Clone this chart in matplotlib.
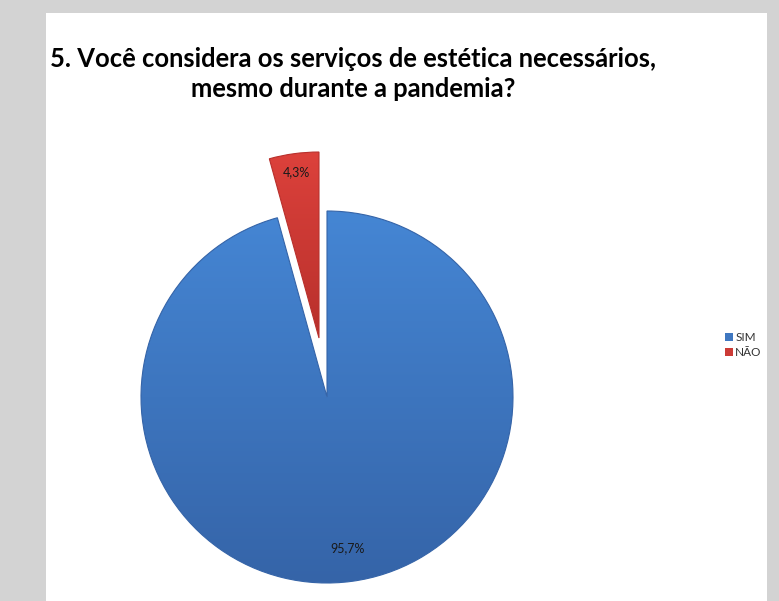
import matplotlib.pyplot as plt
import numpy as np
from matplotlib.colors import to_rgb
from matplotlib.patches import Rectangle, Patch

# Respostas da pergunta 5
categorias = ['SIM', 'NÃO']
percentuais = [95.7, 4.3]
rotulos = ['95,7%', '4,3%']
cores_claras = ['#4586d4', '#dc413b']
cores_escuras = ['#3564a8', '#b8302c']
cores_legenda = ['#3f77c0', '#cc3b36']

titulo = '5. Você considera os serviços de estética necessários,\nmesmo durante a pandemia?'
fonte = ['Lato', 'DejaVu Sans']

W, H = 779, 601
fig = plt.figure(figsize=(W / 100, H / 100), dpi=100)
fig.patch.set_facecolor('#d3d3d3')

# painel branco do slide
fig.patches.append(Rectangle((46 / W, 0), (767 - 46) / W, (H - 13) / H,
                             transform=fig.transFigure, facecolor='white',
                             edgecolor='none', zorder=-1))

fig.text(353 / W, 1 - 74 / H, titulo, ha='center', va='center',
         multialignment='center', fontsize=18.4, fontweight='bold',
         family=fonte, color='black', linespacing=1.33)

# eixo quadrado: centro da pizza em (327, 397) px, raio 186 px
cx, cy, R, meia = 327, 397, 186, 260
ax = fig.add_axes([(cx - meia) / W, (H - cy - meia) / H, 2 * meia / W, 2 * meia / H])
ax.set_zorder(2)
ax.patch.set_visible(False)
ax.axis('off')

wedges = ax.pie(percentuais, startangle=90, counterclock=False,
                explode=[0, 0.32], radius=1,
                wedgeprops=dict(linewidth=0))[0]

# gradiente vertical em cada fatia
grad = np.linspace(0, 1, 256).reshape(-1, 1, 1)
for w, c1, c2 in zip(wedges, cores_claras, cores_escuras):
    w.set_facecolor('none')
    w.set_edgecolor(c2)
    w.set_linewidth(0.8)
    w.set_clip_on(False)
    w.set_zorder(2)
    a = np.array(to_rgb(c1))
    b = np.array(to_rgb(c2))
    img = a * (1 - grad) + b * grad
    bb = w.get_path().get_extents(w.get_patch_transform())
    im = ax.imshow(img, extent=[bb.x0, bb.x1, bb.y0, bb.y1], origin='upper',
                   aspect='auto', zorder=1, interpolation='bilinear')
    im.set_clip_path(w)

ax.set_xlim(-meia / R, meia / R)
ax.set_ylim(-meia / R, meia / R)
ax.set_aspect('equal')

# rótulos de percentual
for w, txt, d in zip(wedges, rotulos, [0.82, 0.9]):
    ang = np.deg2rad((w.theta1 + w.theta2) / 2)
    x0, y0 = w.center
    ax.text(x0 + d * np.cos(ang), y0 + d * np.sin(ang), txt, ha='center',
            va='center', fontsize=9, family=fonte, color='#1a1a1a', zorder=3)

handles = [Patch(facecolor=c, edgecolor='none') for c in cores_legenda]
fig.legend(handles, categorias, loc='center left',
           bbox_to_anchor=(714 / W, 1 - 345 / H), frameon=False,
           prop={'family': fonte, 'size': 8.5},
           handlelength=0.7, handleheight=0.7, handletextpad=0.2,
           labelspacing=0.3, labelcolor='#333333')

fig.savefig('out.png', dpi=100)
